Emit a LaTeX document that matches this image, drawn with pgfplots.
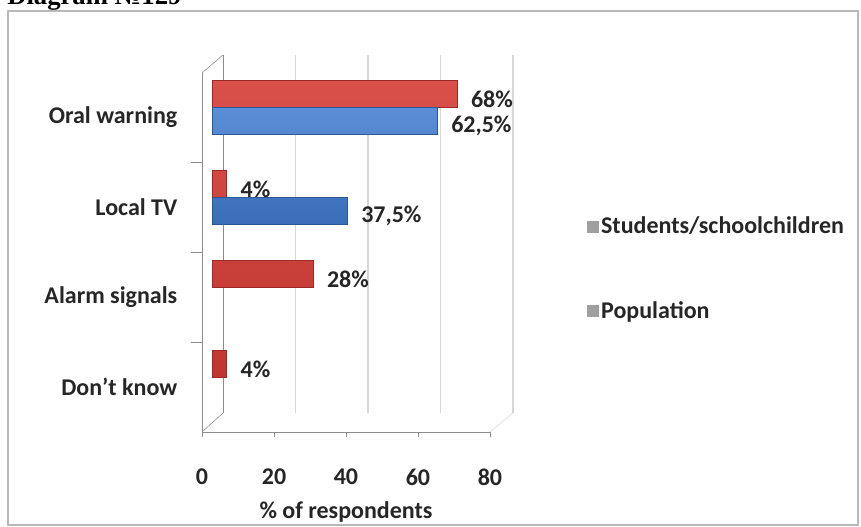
\documentclass[border=0pt]{standalone}
\usepackage{pgfplots}
\pgfplotsset{compat=1.18}
\usepackage{fontspec}
\setmainfont{Carlito}
\newfontfamily\titlefont{Liberation Serif}
\newcommand{\lbl}{\bfseries\fontsize{18}{21.6}\selectfont}
\definecolor{redtop}{HTML}{D9504A}
\definecolor{redmid}{HTML}{E2625C}
\definecolor{redbot}{HTML}{C0352F}
\definecolor{redline}{HTML}{9E2A26}
\definecolor{bluetop}{HTML}{5A8ED6}
\definecolor{bluemid}{HTML}{6A9BDD}
\definecolor{bluebot}{HTML}{3A6DB8}
\definecolor{blueline}{HTML}{2C5694}
\definecolor{axisgray}{HTML}{8C8C8C}
\definecolor{gridgray}{HTML}{D6D6D6}
\begin{document}
\begin{tikzpicture}
\useasboundingbox (0,0) rectangle (645.75pt,395.25pt);
\fill[white] (0,0) rectangle (645.75pt,395.25pt);
\node[anchor=base west, inner sep=0pt, font=\titlefont\bfseries\fontsize{20}{24}\selectfont] at (5.25pt,391.5pt) {Diagram №129};
\draw[gray!55, line width=1.2pt] (6pt,1.5pt) rectangle (643.5pt,387pt);

% back wall
\begin{axis}[at={(167.25pt,85.5pt)}, anchor=south west, scale only axis,
  width=217.5pt, height=268.5pt, xmin=0, xmax=80, ymin=0, ymax=1,
  axis x line*=bottom, axis y line*=left, axis line style={-},
  x axis line style={draw=none}, y axis line style={draw=axisgray},
  xtick={20,40,60,80}, xticklabels={}, ytick=\empty, major tick length=0pt,
  xmajorgrids, grid style={gridgray, line width=0.8pt}]
\end{axis}
\draw[axisgray] (151.5pt,71.25pt) -- (167.25pt,85.5pt);
\draw[axisgray] (151.5pt,340.5pt) -- (167.25pt,354pt);
\draw[gridgray] (367.5pt,71.25pt) -- (384.75pt,85.5pt);

% bars (mid depth)
\begin{axis}[at={(159pt,78.375pt)}, anchor=south west, scale only axis,
  width=216pt, height=270pt, xmin=0, xmax=80, ymin=0, ymax=4,
  hide axis, xbar, bar width=0.3, point meta=x,
  /pgf/number format/use comma, /pgf/number format/assume math mode=true,
  nodes near coords={\pgfmathprintnumber{\pgfplotspointmeta}\%},
  nodes near coords style={anchor=west, inner sep=0pt, xshift=10.5pt, yshift=-4pt, font=\lbl, text=black!85}]
\addplot[xbar, bar shift=0.15, draw=redline, top color=redtop, middle color=redmid, bottom color=redbot]
  coordinates {(4,0.5) (28,1.5) (4,2.5) (68,3.5)};
\addplot[xbar, bar shift=-0.15, draw=blueline, top color=bluetop, middle color=bluemid, bottom color=bluebot]
  coordinates {(37.5,2.5) (62.5,3.5)};
\end{axis}

% front axis
\begin{axis}[at={(151.5pt,71.25pt)}, anchor=south west, scale only axis,
  width=216pt, height=269.25pt, xmin=0, xmax=80, ymin=0, ymax=3.989,
  axis x line*=bottom, axis y line*=left, axis line style={axisgray, -},
  xtick={0,20,40,60,80},
  ytick={0.5,1.5,2.5,3.5},
  yticklabels={Don’t know, Alarm signals, Local TV, Oral warning},
  minor ytick={1,2,3},
  tick align=outside, major tick length=4pt, minor tick length=8pt,
  major y tick style={draw=none}, tick style={axisgray},
  /pgf/number format/assume math mode=true,
  ticklabel style={font=\lbl, text=black!85},
  xticklabel style={yshift=-20pt},
  yticklabel style={anchor=east, xshift=-11pt},
  xlabel={\% of respondents}, xlabel style={font=\lbl, text=black!85, yshift=-5pt},
  legend style={at={(1.323,0.455)}, anchor=west, draw=none, fill=none, font=\lbl, text=black!85, row sep=45pt, legend cell align=left}]
\addlegendimage{legend image code/.code={\fill[gray!75] (0pt,-4pt) rectangle (8pt,4pt);}}
\addlegendentry{Students/schoolchildren}
\addlegendimage{legend image code/.code={\fill[gray!75] (0pt,-4pt) rectangle (8pt,4pt);}}
\addlegendentry{Population}
\end{axis}
\end{tikzpicture}
\end{document}
